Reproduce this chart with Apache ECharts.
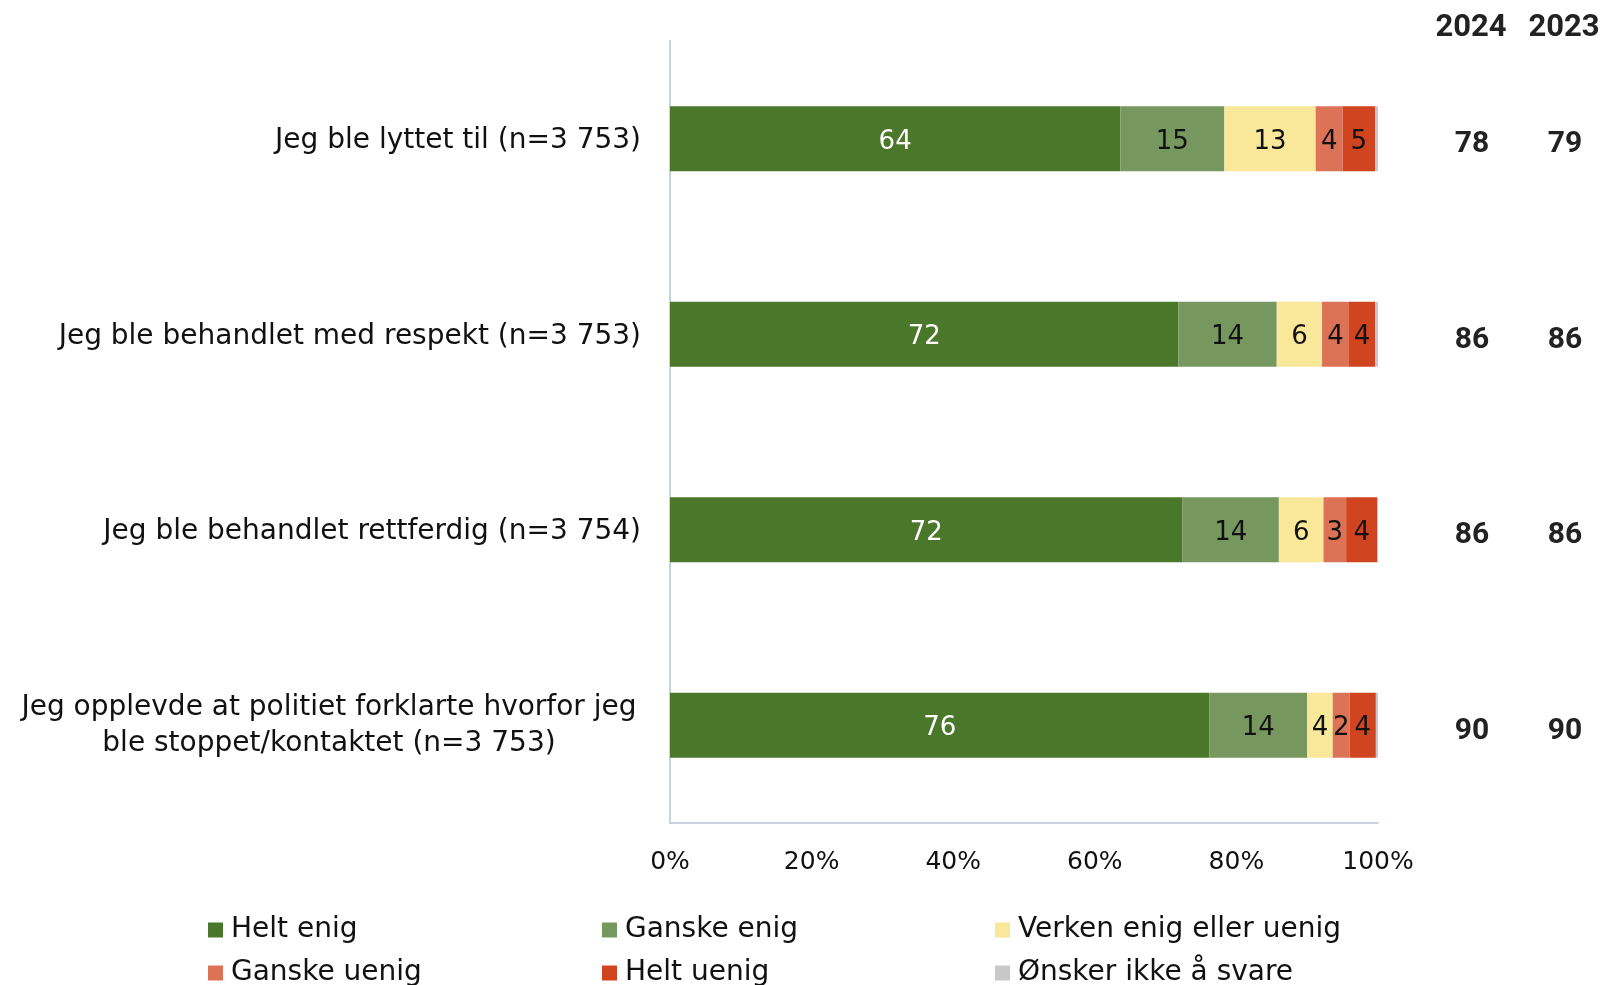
<!DOCTYPE html>
<html><head><meta charset="utf-8">
<script src="https://cdn.jsdelivr.net/npm/echarts@6/dist/echarts.min.js"></script>
<style>html,body{margin:0;padding:0;background:#fff}#c{width:1604px;height:985px}</style>
</head><body><div id="c"></div>
<script>
const categories = [
  'Jeg ble lyttet til (n=3 753)',
  'Jeg ble behandlet med respekt (n=3 753)',
  'Jeg ble behandlet rettferdig (n=3 754)',
  'Jeg opplevde at politiet forklarte hvorfor jeg\nble stoppet/kontaktet (n=3 753)'
];
const seriesNames = ['Helt enig','Ganske enig','Verken enig eller uenig','Ganske uenig','Helt uenig','Ønsker ikke å svare'];
const heltEnig    = [63.6, 71.8, 72.4, 76.2];
const ganskeEnig  = [14.7, 13.9, 13.6, 13.8];
const verken      = [12.9, 6.4, 6.3, 3.6];
const ganskeUenig = [3.8, 3.8, 3.2, 2.4];
const heltUenig   = [4.6, 3.7, 4.4, 3.7];
const onsker      = [0.4, 0.4, 0.1, 0.3];
const total2024 = ['78','86','86','90'];
const total2023 = ['79','86','86','90'];
const years = ['2024','2023'];

const colors = ['#4a772a','#76985f','#fae89a','#dc7256','#d0451f','#c8c8c8'];
const font = 'DejaVu Sans';
const seriesData = [heltEnig, ganskeEnig, verken, ganskeUenig, heltUenig, onsker];

const chart = echarts.init(document.getElementById('c'), null, {renderer:'canvas'});
const series = seriesData.map((d,i)=>({
  name: seriesNames[i], type:'bar', stack:'s', barWidth:65,
  itemStyle:{color:colors[i]},
  label:{show: i<5, position:'inside', offset:[0,3], color: i===0?'#ffffff':'#111111',
    fontFamily:font, fontSize:26, formatter:p=>Math.round(p.value)},
  data:d
}));
const legendPos = [[203,911],[597,911],[990,911],[203,954],[597,954],[990,954]];
const legends = seriesNames.map((n,i)=>({
  left:legendPos[i][0], top:legendPos[i][1], itemWidth:15, itemHeight:15, icon:'rect',
  textStyle:{fontFamily:font, fontSize:28, color:'#111', padding:[0,0,0,3]},
  data:[n]
}));
const rightLabel = (m)=>({fontFamily:'Roboto', fontWeight:'bold', fontSize:30, color:'#222',
  margin:m, align:'center', verticalAlign:'top', lineHeight:12});
chart.setOption({
  animation:false,
  color:colors,
  grid:{left:670, right:226, top:41, bottom:162, containLabel:false},
  title:[
    {text:years[0], left:1466, top:8, textAlign:'center', textStyle:{fontFamily:'Roboto', fontWeight:'bold', fontSize:31, color:'#222'}},
    {text:years[1], left:1559, top:8, textAlign:'center', textStyle:{fontFamily:'Roboto', fontWeight:'bold', fontSize:31, color:'#222'}}
  ],
  legend:legends,
  xAxis:{type:'value', min:0, max:100, interval:20,
    axisLine:{show:true, lineStyle:{color:'#c9d3df', width:2}},
    axisTick:{show:false}, splitLine:{show:false},
    axisLabel:{formatter:'{value}%', fontFamily:font, fontSize:25, color:'#111', margin:27}
  },
  yAxis:[
    {type:'category', inverse:true,
      data: categories.map((c,i)=> i===3 ? {value:c, textStyle:{align:'center', verticalAlign:'middle', lineHeight:36, padding:[0,624,0,0]}} : c),
      axisLine:{show:true, lineStyle:{color:'#c9d3df', width:2}}, axisTick:{show:false},
      axisLabel:{fontFamily:font, fontSize:28, color:'#111', margin:29, align:'right', verticalAlign:'top', lineHeight:4}
    },
    {type:'category', inverse:true, position:'right', data:total2024,
      axisLine:{show:false}, axisTick:{show:false}, axisLabel:rightLabel(94)},
    {type:'category', inverse:true, position:'right', data:total2023,
      axisLine:{show:false}, axisTick:{show:false}, axisLabel:rightLabel(187)}
  ],
  series: series
});
</script></body></html>
